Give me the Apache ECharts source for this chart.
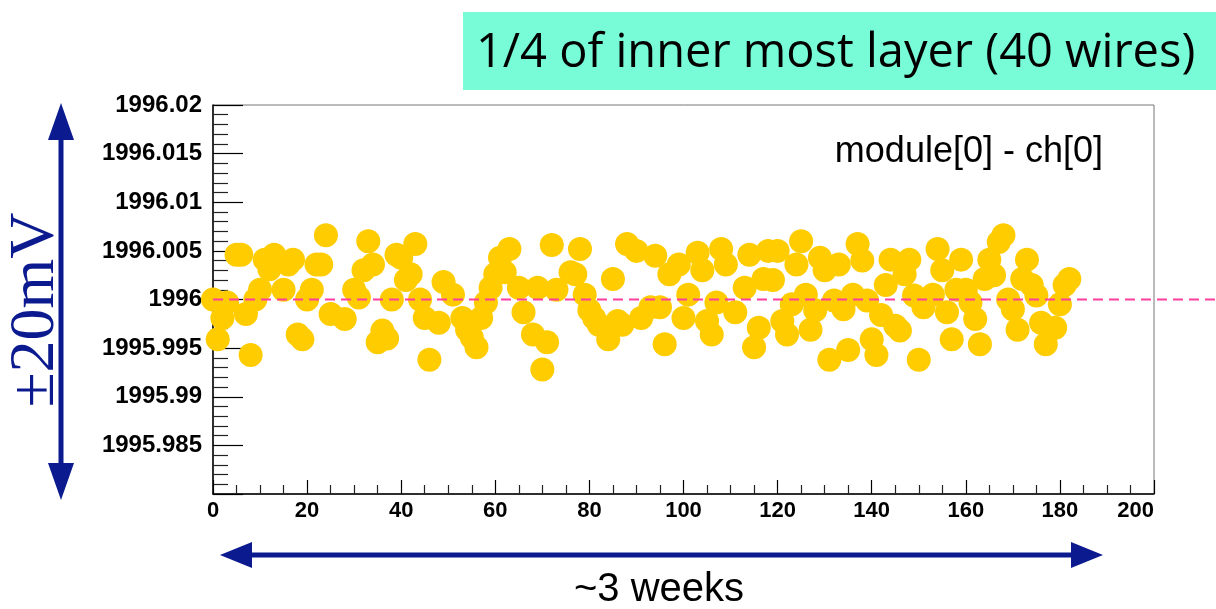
<!DOCTYPE html>
<html>
<head>
<meta charset="utf-8">
<script src="https://cdn.jsdelivr.net/npm/echarts@6/dist/echarts.min.js"></script>
<style>
html,body{margin:0;padding:0;background:#fff;}
#chart{width:1216px;height:609px;}
</style>
</head>
<body>
<div id="chart"></div>
<script>
// ---- data ----
const titleText = "1/4 of inner most layer (40 wires)";
const panelLabel = "module[0] - ch[0]";
const yArrowLabel = "\u00B120mV";
const xArrowLabel = "~3 weeks";
const referenceLevel = 1996;

const xs = [0,1,2,3,5,6,7,8,9,10,11,12,13,15,16,17,18,19,20,21,22,23,24,25,28,30,31,32,33,34,35,36,37,38,39,40,41,42,43,44,45,46,48,49,51,53,54,55,56,57,58,59,60,61,62,63,65,66,68,69,70,71,72,73,76,77,78,79,80,81,82,84,85,86,87,88,90,91,93,94,95,96,97,99,100,101,103,104,105,106,107,108,109,111,113,114,115,116,117,118,119,120,121,122,123,124,125,126,127,128,129,130,131,132,133,134,135,136,137,138,139,140,141,142,143,144,145,146,147,148,149,150,151,153,154,155,156,157,158,159,160,161,162,163,164,165,166,167,168,169,170,171,172,173,174,175,176,177,179,180,181,182];

const ys = [
1996.0000,1995.9959,1995.9981,1995.9997,1996.0046,1996.0046,1995.9985,1995.9943,1996.0000,1996.0010,
1996.0041,1996.0031,1996.0046,1996.0010,1996.0036,1996.0041,1995.9964,1995.9959,1996.0000,1996.0010,
1996.0036,1996.0036,1996.0066,1995.9985,1995.9980,1996.0010,1996.0002,1996.0030,1996.0060,1996.0036,
1995.9956,1995.9968,1995.9960,1996.0000,1996.0046,1996.0043,1996.0020,1996.0026,1996.0057,1996.0000,
1995.9981,1995.9938,1995.9976,1996.0018,1996.0005,1995.9981,1995.9969,1995.9961,1995.9951,1995.9981,
1995.9997,1996.0012,1996.0026,1996.0043,1996.0028,1996.0052,1996.0012,1995.9987,1995.9964,1996.0012,
1995.9928,1995.9956,1996.0056,1996.0010,1996.0028,1996.0026,1996.0052,1996.0005,1995.9989,1995.9981,
1995.9974,1995.9959,1996.0021,1995.9978,1995.9974,1996.0057,1996.0050,1995.9981,1995.9992,1996.0045,
1995.9992,1995.9954,1996.0026,1996.0036,1995.9981,1996.0005,1996.0048,1996.0030,1995.9978,1995.9964,
1995.9997,1996.0052,1996.0036,1995.9987,1996.0012,1996.0046,1995.9951,1995.9971,1996.0021,1996.0050,
1996.0020,1996.0050,1995.9978,1995.9964,1995.9995,1996.0036,1996.0060,1996.0005,1995.9969,1995.9989,
1996.0043,1996.0030,1995.9938,1995.9999,1996.0036,1995.9990,1995.9948,1996.0005,1996.0057,1996.0040,
1995.9999,1995.9959,1995.9943,1995.9984,1996.0015,1996.0041,1995.9973,1995.9968,1996.0026,1996.0041,
1996.0004,1995.9938,1995.9992,1996.0005,1996.0052,1996.0030,1995.9987,1995.9959,1996.0010,1996.0041,
1996.0010,1995.9997,1995.9980,1995.9954,1996.0021,1996.0041,1996.0025,1996.0059,1996.0066,1996.0000,
1995.9990,1995.9969,1996.0021,1996.0041,1996.0015,1996.0004,1995.9976,1995.9954,1995.9971,1995.9995,
1996.0015,1996.0021
];

const xTickLabels = ["0","20","40","60","80","100","120","140","160","180","200"];
const yTickLabels = ["1995.98","1995.985","1995.99","1995.995","1996","1996.005","1996.01","1996.015","1996.02"];
// ------------------------------------------------

const pts = [];
const n = Math.min(xs.length, ys.length);
for (let i = 0; i < n; i++) pts.push([xs[i], ys[i]]);
if (xs.length !== ys.length) console.log('length mismatch', xs.length, ys.length);

const navy = '#0B1A8E';
const chart = echarts.init(document.getElementById('chart'), null, {renderer: 'canvas'});

function yLabel(v) {
  const s = parseFloat(v.toFixed(3)).toString();
  if (s === yTickLabels[0]) return '';
  return yTickLabels.indexOf(s) >= 0 ? s : '';
}

chart.setOption({
  animation: false,
  backgroundColor: '#ffffff',
  grid: {
    left: 213, top: 105, right: 62, bottom: 115,
    show: true, borderColor: '#777777', borderWidth: 1, backgroundColor: 'transparent'
  },
  xAxis: {
    type: 'value', min: 0, max: 200, interval: 20,
    axisLine: {show: true, lineStyle: {color: '#000', width: 1.5}},
    axisTick: {show: true, inside: true, length: 14, lineStyle: {color: '#000', width: 1.2}},
    minorTick: {show: true, splitNumber: 4, length: 9, lineStyle: {color: '#222', width: 1.2}},
    splitLine: {show: false},
    axisLabel: {
      margin: 6, color: '#000', fontFamily: 'Liberation Sans', fontWeight: 'bold', fontSize: 22,
      alignMaxLabel: 'right',
      formatter: function (v) { const s = String(Math.round(v)); return xTickLabels.indexOf(s) >= 0 ? s : ''; }
    }
  },
  yAxis: {
    type: 'value', min: 1995.98, max: 1996.02, interval: 0.005,
    axisLine: {show: true, lineStyle: {color: '#000', width: 1.5}},
    axisTick: {show: true, inside: true, length: 30, lineStyle: {color: '#000', width: 1.2}},
    minorTick: {show: true, splitNumber: 5, length: 15, lineStyle: {color: '#222', width: 1.2}},
    splitLine: {show: false},
    axisLabel: {
      margin: 11, color: '#000', fontFamily: 'Liberation Sans', fontWeight: 'bold', fontSize: 24,
      formatter: yLabel
    }
  },
  series: [{
    type: 'scatter',
    data: pts,
    symbol: 'circle',
    symbolSize: 24,
    itemStyle: {color: '#FFCC00', opacity: 1},
    z: 3
  }]
});

const p0 = chart.convertToPixel({gridIndex: 0}, [0, referenceLevel]);

chart.setOption({
  graphic: [
    // title box
    {type: 'rect', left: 463, top: 12, shape: {width: 753, height: 78}, style: {fill: '#78FCD8'}, z: 10},
    {type: 'text', x: 476, y: 54, z: 11,
      style: {text: titleText, fill: '#000', font: '47px "Open Sans"', textVerticalAlign: 'middle', textAlign: 'left'}},
    // panel label
    {type: 'text', x: 1103, y: 152, z: 11,
      style: {text: panelLabel, fill: '#000', font: '36px "Liberation Sans"', textAlign: 'right', textVerticalAlign: 'middle'}},
    // dashed reference line
    {type: 'line', z: 20, shape: {x1: p0[0], y1: p0[1], x2: 1216, y2: p0[1]},
      style: {stroke: '#FF3EA0', lineWidth: 2, lineDash: [10, 6]}},
    // vertical arrow
    {type: 'line', z: 10, shape: {x1: 61, y1: 130, x2: 61, y2: 475}, style: {stroke: navy, lineWidth: 5}},
    {type: 'polygon', z: 10, shape: {points: [[61, 103], [48, 140], [74, 140]]}, style: {fill: navy}},
    {type: 'polygon', z: 10, shape: {points: [[61, 500], [48, 463], [74, 463]]}, style: {fill: navy}},
    {type: 'text', x: 36, y: 310, rotation: Math.PI / 2, z: 11,
      style: {text: yArrowLabel, fill: navy, font: '64px "Liberation Serif"', textAlign: 'center', textVerticalAlign: 'middle'}},
    // horizontal arrow
    {type: 'line', z: 10, shape: {x1: 245, y1: 555, x2: 1080, y2: 555}, style: {stroke: navy, lineWidth: 5}},
    {type: 'polygon', z: 10, shape: {points: [[220, 555], [252, 542], [252, 568]]}, style: {fill: navy}},
    {type: 'polygon', z: 10, shape: {points: [[1103, 555], [1071, 542], [1071, 568]]}, style: {fill: navy}},
    {type: 'text', x: 659, y: 590, z: 11,
      style: {text: xArrowLabel, fill: '#000', font: '40px "Liberation Sans"', textAlign: 'center', textVerticalAlign: 'middle'}}
  ]
});
</script>
</body>
</html>
